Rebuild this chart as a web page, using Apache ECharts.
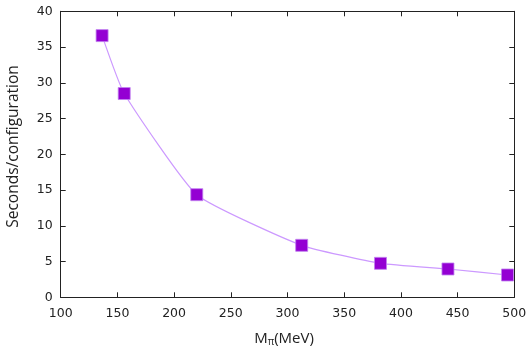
<!DOCTYPE html>
<html><head><meta charset="utf-8">
<script src="https://cdn.jsdelivr.net/npm/echarts@6/dist/echarts.min.js"></script>
<style>html,body{margin:0;padding:0;background:#fff}#c{width:530px;height:348px}</style>
</head><body><div id="c"></div>
<script>
const pionMass = [136.5, 156, 220, 312.5, 382, 441.5, 494];
const secondsPerConfig = [36.6, 28.5, 14.35, 7.27, 4.75, 3.96, 3.12];
const xTicks = [100, 150, 200, 250, 300, 350, 400, 450, 500];
const yTicks = [0, 5, 10, 15, 20, 25, 30, 35, 40];
const xTitle = 'M';
const xTitleSub = 'π';
const xTitleUnit = '(MeV)';
const yTitle = 'Seconds/configuration';

const font = 'DejaVu Sans';
const titleFont = 'Open Sans';
const axisLine = {show: true, onZero: false, lineStyle: {color: '#222', width: 1}};
const tick = {show: true, inside: true, length: 5, lineStyle: {color: '#222'}};
const chart = echarts.init(document.getElementById('c'));
const pts = pionMass.map((x, i) => [x, secondsPerConfig[i]]);
chart.setOption({
  animation: false,
  grid: {left: 60.7, right: 15.7, top: 11.3, bottom: 50.7},
  graphic: [{
    type: 'text', x: 284, y: 330,
    style: {
      text: '{m|' + xTitle + '}{s|' + xTitleSub + '}{m|' + xTitleUnit + '}',
      align: 'center', verticalAlign: 'top',
      rich: {
        m: {fontFamily: titleFont, fontSize: 15, fill: '#222'},
        s: {fontFamily: titleFont, fontSize: 10, fill: '#222', verticalAlign: 'bottom', padding: [7,0,0,0]}
      }
    }
  }, {
    type: 'text', x: 6, y: 146.5, rotation: Math.PI / 2,
    style: {text: yTitle, fontFamily: titleFont, fontSize: 15.5, fill: '#222',
            align: 'center', verticalAlign: 'top'}
  }],
  xAxis: [{
    type: 'value', min: xTicks[0], max: xTicks[xTicks.length-1], interval: 50,
    axisLine: axisLine, axisTick: tick, splitLine: {show: false},
    axisLabel: {color: '#222', fontFamily: font, fontSize: 12.5, margin: 10}
  }, {
    type: 'value', position: 'top', min: 100, max: 500, interval: 50,
    axisLine: axisLine, axisTick: tick, axisLabel: {show: false}, splitLine: {show: false}
  }],
  yAxis: [{
    type: 'value', min: yTicks[0], max: yTicks[yTicks.length-1], interval: 5,
    axisLine: axisLine, axisTick: tick, splitLine: {show: false},
    axisLabel: {color: '#222', fontFamily: font, fontSize: 12.5, margin: 8}
  }, {
    type: 'value', position: 'right', min: 0, max: 40, interval: 5,
    axisLine: axisLine, axisTick: tick, axisLabel: {show: false}, splitLine: {show: false}
  }],
  series: [{
    type: 'line', data: pts, smooth: 0.15,
    lineStyle: {color: '#cc99ff', width: 1.2},
    symbol: 'rect', symbolSize: 12,
    itemStyle: {color: '#9400d3', borderColor: '#c080f0', borderWidth: 0.8},
    z: 3
  }]
});
</script></body></html>
